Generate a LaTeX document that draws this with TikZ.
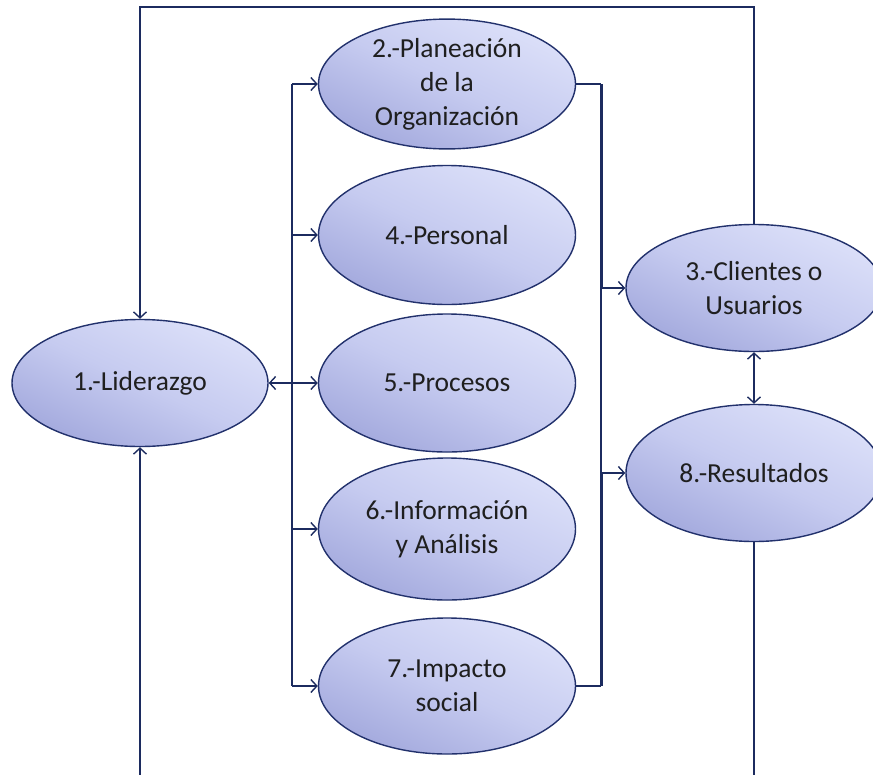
\documentclass[tikz,border=0pt]{standalone}
\usepackage{fontspec}
\setmainfont{Carlito}
\usetikzlibrary{shapes.geometric,arrows.meta}
\definecolor{navy}{HTML}{1C2B5F}
\definecolor{rim}{HTML}{22316C}
\definecolor{lavlight}{HTML}{DCE0F9}
\definecolor{lavmid}{HTML}{C6CBF0}
\definecolor{lavdark}{HTML}{A3A9DD}
\tikzset{
  blob/.style={ellipse, draw=rim, line width=1.4pt, inner sep=0pt,
    top color=lavlight, bottom color=lavdark, middle color=lavmid,
    shading angle=-25,
    align=center, text=black!88,
    font=\fontsize{27.5}{34}\selectfont},
  link/.style={draw=navy, line width=1.4pt},
  bus/.style={draw=navy, line width=3pt},
  tip/.style={-{Straight Barb[length=6pt,width=13pt,line width=1.4pt]}},
  twotip/.style={{Straight Barb[length=6pt,width=13pt,line width=1.4pt]}-{Straight Barb[length=6pt,width=13pt,line width=1.4pt]}}
}
\begin{document}
\begin{tikzpicture}[x=1pt,y=-1pt]
\useasboundingbox (0,0) rectangle (873,774);

% ellipses
\node[blob, minimum width=256, minimum height=127] (n1) at (140,383) {1.-Liderazgo};
\node[blob, minimum width=257, minimum height=127] (n2) at (447,84) {2.-Planeación\\de la\\Organización};
\node[blob, minimum width=257, minimum height=139] (n4) at (447,235) {4.-Personal};
\node[blob, minimum width=257, minimum height=138] (n5) at (447,383) {5.-Procesos};
\node[blob, minimum width=257, minimum height=142] (n6) at (447,529) {6.-Información\\y Análisis};
\node[blob, minimum width=257, minimum height=136] (n7) at (447,686) {7.-Impacto\\social};
\node[blob, minimum width=256, minimum height=127] (n3) at (754,288) {3.-Clientes o\\Usuarios};
\node[blob, minimum width=256, minimum height=137] (n8) at (754,473) {8.-Resultados};

% helper coordinates for the buses and the outer loop
\coordinate (lb) at (292,0);
\coordinate (rb) at (601,0);
\coordinate (tl) at (0,7);
\coordinate (bl) at (0,780);

% left distribution bus
\draw[link] (lb |- n2.west) -- (lb |- n7.west);
\foreach \n in {n2,n4,n6,n7}
  \draw[link,tip] (lb |- \n.west) -- (\n.west);
\draw[link,twotip] (n1.east) -- (n5.west);

% right collection bus
\draw[link] (n2.east) -- (rb |- n2.east);
\draw[bus] (rb |- n2.east) -- (rb |- n3.west);
\draw[link] (rb |- n3.west) -- (rb |- n8.west);
\draw[bus] (rb |- n8.west) -- (rb |- n7.east);
\draw[link] (rb |- n7.east) -- (n7.east);
\draw[link,tip] (rb |- n3.west) -- (n3.west);
\draw[link,tip] (rb |- n8.west) -- (n8.west);

% clients and results
\draw[link,twotip] (n3.south) -- (n8.north);

% feedback loops
\draw[link,tip] (n3.north) -- (n3.north |- tl) -- (n1.north |- tl) -- (n1.north);
\draw[link] (n8.south) -- (n8.south |- bl);
\draw[link,tip] (n1.south |- bl) -- (n1.south);
\end{tikzpicture}
\end{document}
